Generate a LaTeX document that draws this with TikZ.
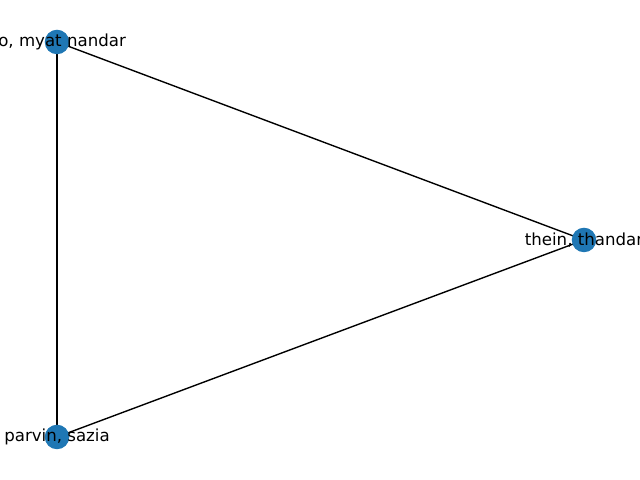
\documentclass[tikz,border=0pt]{standalone}
\usepackage{fontspec}
\setmainfont{DejaVu Sans}
\usepackage{tikz}
\definecolor{node blue}{HTML}{1F77B4}
\pgfdeclarelayer{background}
\pgfsetlayers{background,main}
\begin{document}
\begin{tikzpicture}[
    x=0.01in, y=0.01in,
    person/.style={circle, fill=node blue, minimum size=0.245in, inner sep=0},
    name label/.style={font=\fontsize{12}{14}\selectfont, inner sep=0},
    link/.style={draw=black, line width=1pt},
]
\useasboundingbox (0,0) rectangle (640,480);
\clip (0,0) rectangle (640,480);

% People
\path
    (57,438) node [person] (myat) {}
    (584,240) node [person] (thandar) {}
    (57,43) node [person] (sazia) {};

% Links go behind the circles
\begin{pgfonlayer}{background}
\draw [link] (myat.center) -- (thandar.center);
\draw [link] (myat.center) -- (sazia.center);
\draw [link] (sazia.center) -- (thandar.center);
\end{pgfonlayer}

% Names on top
\path
    (myat) node [name label] (myat name) {oo, myat nandar}
    (thandar) node [name label] (thandar name) {thein, thandar}
    (sazia) node [name label] (sazia name) {parvin, sazia};
\end{tikzpicture}
\end{document}
